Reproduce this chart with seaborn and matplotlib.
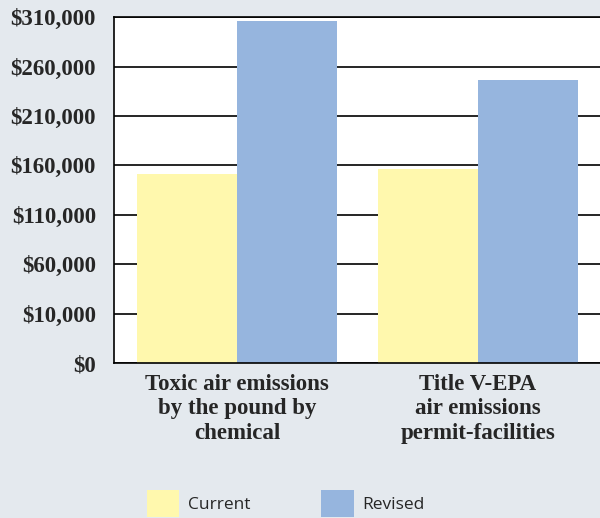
import matplotlib
matplotlib.use("Agg")
import matplotlib.pyplot as plt
import numpy as np
import pandas as pd
import seaborn as sns
from matplotlib.patches import Patch

categories = [
    "Toxic air emissions\nby the pound by\nchemical",
    "Title V-EPA\nair emissions\npermit-facilities",
]
current = [151000, 156000]
revised = [306000, 246000]
series = ["Current", "Revised"]
tick_values = [0, 10000, 60000, 110000, 160000, 210000, 260000, 310000]
tick_labels = ["$0", "$10,000", "$60,000", "$110,000", "$160,000",
               "$210,000", "$260,000", "$310,000"]

colors = {"Current": "#fff8ad", "Revised": "#96b5de"}
bg = "#e4e9ee"

df = pd.DataFrame({
    "category": categories * 2,
    "cost": current + revised,
    "version": ["Current"] * 2 + ["Revised"] * 2,
})


# the printed axis spaces $0 -> $10,000 like the other 50,000 steps
def fwd(y):
    y = np.asarray(y, dtype=float)
    return np.where(y < 10000, y * 5, y + 40000)


def inv(y):
    y = np.asarray(y, dtype=float)
    return np.where(y < 50000, y / 5, y - 40000)


sns.set_style("white")
plt.rcParams["font.family"] = ["Liberation Serif", "DejaVu Serif"]

fig = plt.figure(figsize=(6, 5.18), dpi=100, facecolor=bg)
ax = fig.add_axes([0.19, 0.299, 0.81, 0.668])
ax.set_facecolor("white")

sns.barplot(
    data=df, x="category", y="cost", hue="version",
    palette=colors, hue_order=series, width=0.83, gap=0,
    saturation=1, errorbar=None, legend=False, linewidth=0, ax=ax,
)

ax.set_yscale("function", functions=(fwd, inv))
ax.set_ylim(0, 310000)
ax.set_xlim(-0.51, 1.506)
ax.set_yticks(tick_values)
ax.set_yticklabels(tick_labels)
ax.yaxis.set_minor_locator(matplotlib.ticker.NullLocator())

ax.set_axisbelow(True)
ax.yaxis.grid(True, color="black", lw=1.2)
for side in ["left", "bottom", "top"]:
    ax.spines[side].set_color("black")
    ax.spines[side].set_linewidth(1.2)
ax.spines["right"].set_visible(False)

ax.tick_params(axis="y", length=0, pad=13, labelsize=16.5)
ax.tick_params(axis="x", length=0, pad=8, labelsize=16.5)
for lab in ax.get_yticklabels():
    lab.set_fontweight("bold")
for lab in ax.get_xticklabels():
    lab.set_fontweight("bold")
    lab.set_linespacing(1.2)
ax.set_xlabel("")
ax.set_ylabel("")

handles = [Patch(facecolor=colors[s], edgecolor="none") for s in series]
fig.legend(
    handles, series, loc="upper left", bbox_to_anchor=(147 / 600, 28 / 518),
    ncol=2, frameon=False, borderpad=0, borderaxespad=0,
    handlelength=1.85, handleheight=2.0, handletextpad=0.5,
    columnspacing=4.1, prop={"family": "Open Sans", "size": 12.5},
)

fig.savefig("out.png", dpi=100, facecolor=bg)
